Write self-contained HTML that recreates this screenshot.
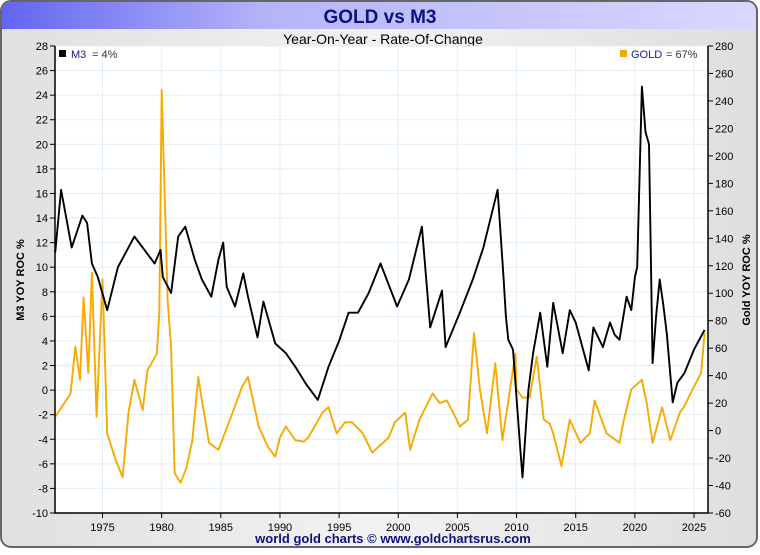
<!DOCTYPE html>
<html><head><meta charset="utf-8"><style>
body{margin:0;width:760px;height:550px;overflow:hidden;background:#fff;font-family:"Liberation Sans",sans-serif}
</style></head><body>
<svg id="c" width="760" height="550" xmlns="http://www.w3.org/2000/svg">
<defs>
<linearGradient id="tb" x1="0" x2="1" y1="0" y2="0"><stop offset="0" stop-color="#6464f4"/><stop offset="0.35" stop-color="#b4b4fa"/><stop offset="1" stop-color="#d8d8ff"/></linearGradient>
<linearGradient id="bg" x1="0" x2="1" y1="0" y2="0"><stop offset="0" stop-color="#e0e0e0"/><stop offset="0.5" stop-color="#f2f2f2"/><stop offset="1" stop-color="#dedede"/></linearGradient>
</defs>
<rect x="1" y="1" width="756" height="546" rx="10" fill="url(#bg)" stroke="#666" stroke-width="2"/>
<path d="M2,29 L2,12 Q2,2 12,2 L746,2 Q756,2 756,12 L756,29 Z" fill="url(#tb)"/>
<text x="380" y="23" text-anchor="middle" font-size="19" font-weight="bold" fill="#101080">GOLD vs M3</text>
<text x="383" y="44" text-anchor="middle" font-size="14" fill="#000">Year-On-Year - Rate-Of-Change</text>
<rect x="55" y="46" width="653" height="467" fill="#fff"/>
<g id="grid"></g>
<g id="series"></g>
<g id="axes"></g>
<text transform="translate(24,280) rotate(-90)" text-anchor="middle" font-size="11" font-weight="bold" fill="#000">M3  YOY  ROC  %</text>
<text transform="translate(750,280) rotate(-90)" text-anchor="middle" font-size="11" font-weight="bold" fill="#000">Gold  YOY  ROC  %</text>
<g><rect x="59" y="50" width="7" height="7" fill="#000"/><text x="71" y="58" font-size="11" fill="#1a1a80">M3</text><text x="92" y="58" font-size="11" fill="#333">= 4%</text></g>
<g><rect x="620" y="50" width="7" height="7" fill="#f5a800"/><text x="631" y="58" font-size="11" fill="#1a1a80">GOLD</text><text x="666" y="58" font-size="11" fill="#333">= 67%</text></g>
<text x="393" y="543" text-anchor="middle" font-size="13" font-weight="bold" fill="#101080">world gold charts © www.goldchartsrus.com</text>
</svg>
<script>
const m3Years=[1971.0,1971.5,1972.4,1973.3,1973.7,1974.1,1974.6,1975.4,1976.3,1977.7,1979.4,1979.9,1980.1,1980.8,1981.4,1982.0,1982.8,1983.4,1984.2,1984.8,1985.2,1985.5,1986.2,1986.9,1987.3,1988.1,1988.6,1989.6,1990.5,1991.3,1992.2,1993.2,1994.1,1995.0,1995.8,1996.6,1997.5,1998.5,1999.9,2000.9,2002.0,2002.7,2003.7,2004.0,2005.2,2006.3,2007.2,2008.4,2008.9,2009.1,2009.3,2009.7,2010.3,2010.5,2011.0,2011.4,2012.0,2012.6,2013.1,2013.9,2014.5,2015.0,2015.4,2016.1,2016.5,2017.3,2017.9,2018.3,2018.7,2019.3,2019.7,2020.0,2020.2,2020.6,2020.9,2021.2,2021.5,2021.8,2022.1,2022.4,2022.7,2023.2,2023.6,2024.2,2025.0,2025.9];
const m3Values=[11.2,16.3,11.6,14.2,13.6,10.3,9.2,6.5,10.0,12.5,10.3,11.4,9.2,7.9,12.5,13.3,10.6,9.0,7.6,10.6,12.0,8.4,6.8,9.5,7.6,4.3,7.2,3.8,3.0,1.9,0.5,-0.8,1.9,4.0,6.3,6.3,7.9,10.3,6.8,9.0,13.3,5.1,8.1,3.5,6.3,9.0,11.6,16.3,9.2,6.0,4.1,3.3,-4.6,-7.1,0.0,3.0,6.3,1.9,7.1,3.0,6.5,5.5,4.1,1.6,5.1,3.5,5.5,4.5,4.1,7.6,6.5,9.2,10,24.7,21,20,2.2,6.0,9.0,7.0,4.6,-1.0,0.6,1.4,3.3,4.9];
const goldYears=[1971.0,1972.3,1972.7,1973.1,1973.4,1973.8,1974.1,1974.5,1975.0,1975.4,1976.1,1976.7,1977.2,1977.7,1978.4,1978.8,1979.6,1979.8,1980.0,1980.3,1980.5,1980.8,1981.1,1981.6,1982.1,1982.6,1983.1,1983.4,1984.0,1984.8,1986.0,1986.8,1987.3,1988.2,1989.0,1989.6,1990.0,1990.5,1991.3,1992.0,1992.4,1993.6,1994.1,1994.8,1995.5,1996.1,1997.0,1997.8,1998.7,1999.2,1999.7,2000.6,2001.0,2001.8,2002.9,2003.5,2004.1,2004.7,2005.2,2005.9,2006.4,2006.9,2007.5,2008.2,2008.8,2009.9,2010.0,2010.5,2011.1,2011.7,2012.3,2012.8,2013.1,2013.8,2014.5,2015.4,2016.2,2016.6,2017.6,2018.7,2019.0,2019.7,2020.6,2021.0,2021.5,2022.3,2023.0,2023.8,2024.2,2024.7,2025.6,2025.9];
const goldValues=[10,27,61,37,97,42,115,10,110,-2,-21,-34,13,37,15,44,56,86,248,158,95,61,-31,-38,-27,-7,39,22,-9,-14,13,32,39,3,-12,-19,-5,3,-7,-8,-5,13,17,-2,6,6,-2,-16,-9,-5,6,13,-14,8,27,20,22,12,3,8,71,30,-2,49,-7,56,30,24,24,54,8,5,-2,-26,8,-9,-2,22,-2,-9,5,30,37,20,-9,17,-7,13,18,27,42,71];
const leftTicks=[-10,-8,-6,-4,-2,0,2,4,6,8,10,12,14,16,18,20,22,24,26,28];
const rightTicks=[-60,-40,-20,0,20,40,60,80,100,120,140,160,180,200,220,240,260,280];
const xTicks=[1975,1980,1985,1990,1995,2000,2005,2010,2015,2020,2025];
const NS='http://www.w3.org/2000/svg';
const L=55,R=708,T=46,B=513;
const xS=y=>102.5+(y-1975)*11.83;
const yL=v=>T+(28-v)*(B-T)/38;
const yR=v=>T+(280-v)*(B-T)/340;
function mk(tag,attrs,parent){const e=document.createElementNS(NS,tag);for(const k in attrs)e.setAttribute(k,attrs[k]);parent.appendChild(e);return e;}
const grid=document.getElementById('grid'),axes=document.getElementById('axes'),series=document.getElementById('series');
leftTicks.forEach(v=>{const y=yL(v);
 const g=mk('line',{x1:L,x2:R,y1:y,y2:y,stroke:'#e2eef8','stroke-width':1},grid);
 
 
 const t=mk('line',{x1:L-5,x2:L,y1:y,y2:y,stroke:'#000'},axes);
 
 
 const tx=mk('text',{x:L-7,y:y+4,'text-anchor':'end','font-size':11,fill:'#000'},axes);tx.textContent=v;
 
 
});
rightTicks.forEach(v=>{const y=yR(v);
 const t=mk('line',{x1:R,x2:R+5,y1:y,y2:y,stroke:'#000'},axes);
 
 
 const tx=mk('text',{x:R+7,y:y+4,'font-size':11,fill:'#000'},axes);tx.textContent=v;
 
 
});
xTicks.forEach(v=>{const x=xS(v);
 const g=mk('line',{x1:x,x2:x,y1:T,y2:B,stroke:'#e2eef8','stroke-width':1},grid);
 
 
 const t=mk('line',{x1:x,x2:x,y1:B,y2:B+5,stroke:'#000'},axes);
 
 
 const tx=mk('text',{x:x,y:B+18,'text-anchor':'middle','font-size':11,fill:'#000'},axes);tx.textContent=v;
 
 
});
const ax=mk('path',{d:`M${L},${T} L${L},${B} L${R},${B} L${R},${T}`,fill:'none',stroke:'#000','stroke-width':1.5},axes);


const gp=mk('polyline',{points:goldYears.map((y,i)=>xS(y).toFixed(1)+','+yR(goldValues[i]).toFixed(1)).join(' '),fill:'none',stroke:'#f5ab00','stroke-width':1.9,'stroke-linejoin':'round'},series);


const mp=mk('polyline',{points:m3Years.map((y,i)=>xS(y).toFixed(1)+','+yL(m3Values[i]).toFixed(1)).join(' '),fill:'none',stroke:'#000','stroke-width':1.9,'stroke-linejoin':'round'},series);


</script>
</body></html>
